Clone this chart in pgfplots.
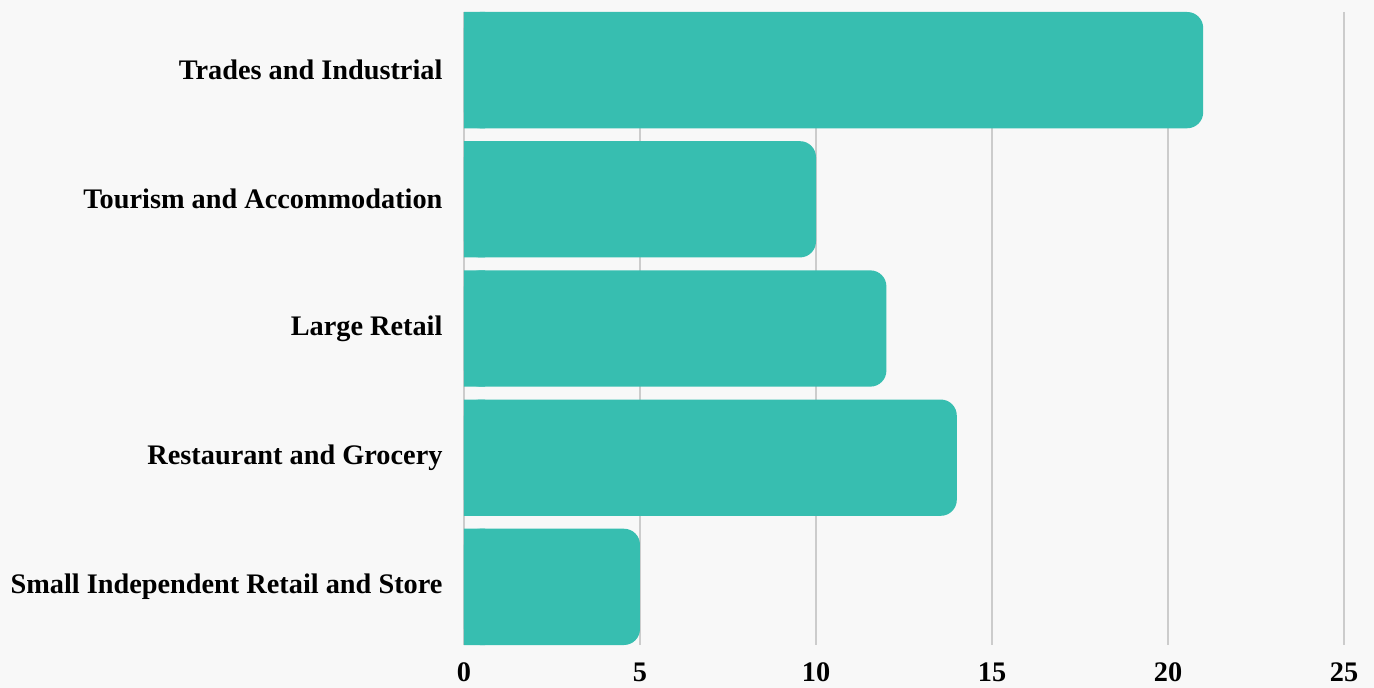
\documentclass[border=0pt]{standalone}
\usepackage{pgfplots}
\pgfplotsset{compat=1.18}
\usepackage{fontspec}
\setmainfont{Liberation Serif}
\usetikzlibrary{backgrounds,calc}
\definecolor{barteal}{HTML}{37BEB0}
\definecolor{bgcol}{HTML}{F8F8F8}
\definecolor{gridgray}{HTML}{CCCCCC}

\begin{document}
\begin{tikzpicture}
\begin{axis}[
    name=ax,
    scale only axis,
    width=880pt,
    height=633pt,
    xmin=0, xmax=25,
    ymin=-0.45, ymax=4.45,
    y dir=reverse,
    xtick={0,5,10,15,20,25},
    ytick={0,1,2,3,4},
    yticklabels={Trades and Industrial,Tourism and Accommodation,Large Retail,Restaurant and Grocery,Small Independent Retail and Store},
    axis line style={draw=none},
    major tick length=0pt,
    xmajorgrids,
    grid style={gridgray, line width=1.2pt},
    ticklabel style={font=\fontsize{28.3}{32}\selectfont\bfseries},
    /pgf/number format/assume math mode=true,
    xticklabel style={yshift=-14pt},
    yticklabel style={xshift=-18pt},
]
% short square pieces underneath, so that the bars keep square left ends
\addplot[xbar, bar width=0.9, bar shift=0pt, fill=barteal, draw=none, sharp corners, forget plot] coordinates {
    (0.6,0) (0.6,1) (0.6,2) (0.6,3) (0.6,4)
};
\addplot[xbar, bar width=0.9, bar shift=0pt, fill=barteal, draw=none, rounded corners=16pt] coordinates {
    (21,0) (10,1) (12,2) (14,3) (5,4)
};
\end{axis}
\pgfresetboundingbox
\begin{pgfonlayer}{background}
\path[use as bounding box, fill=bgcol] ($(ax.south west)+(-464pt,-43pt)$) rectangle ($(ax.north east)+(30pt,12pt)$);
\end{pgfonlayer}
\end{tikzpicture}
\end{document}
